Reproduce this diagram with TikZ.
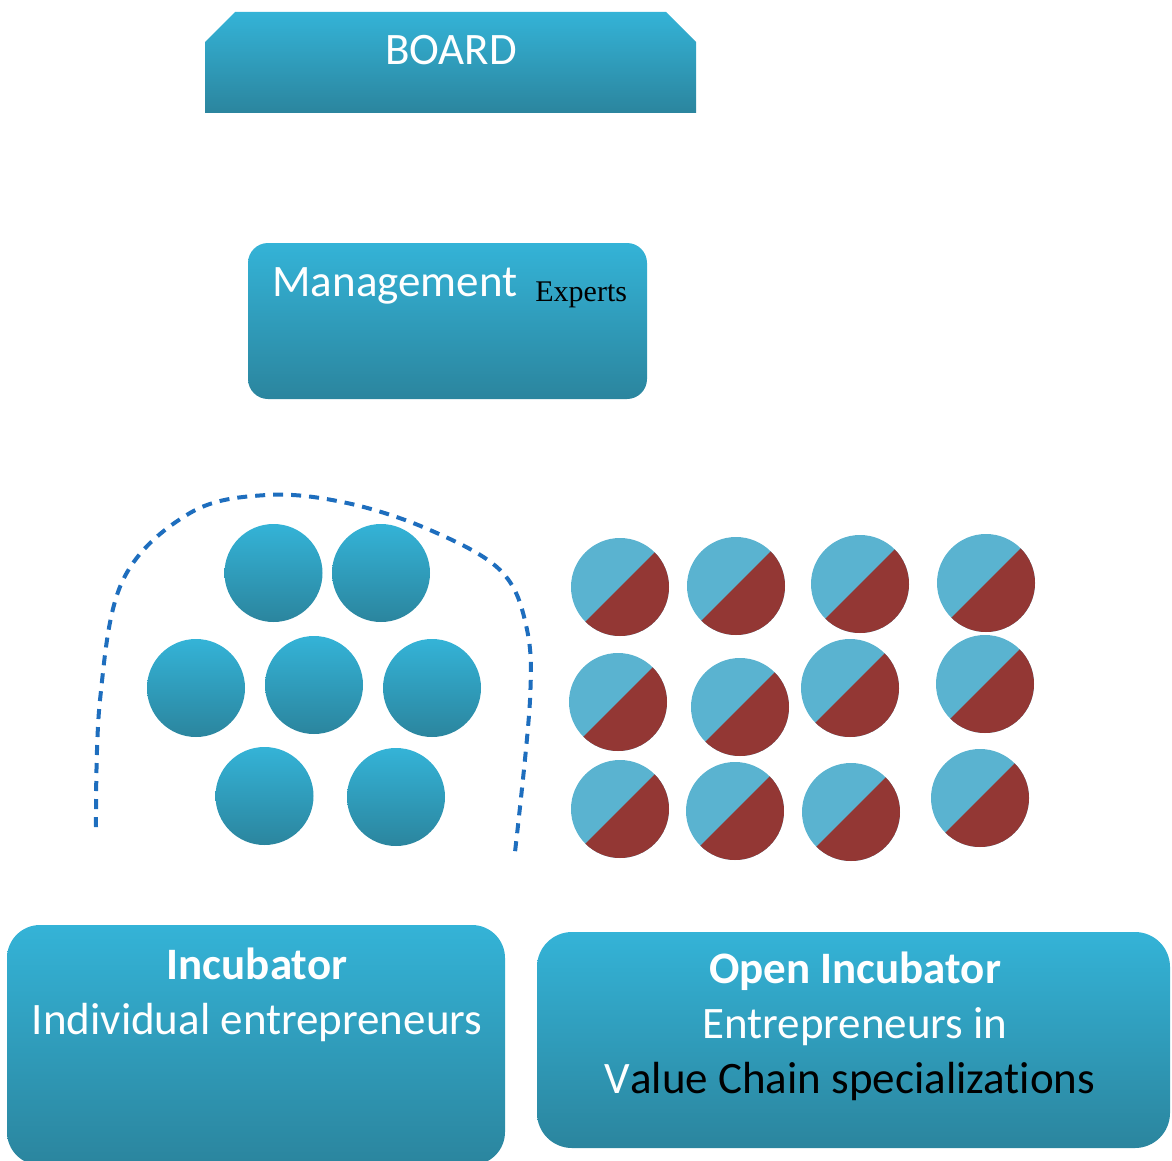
\documentclass[tikz,border=0pt]{standalone}
\usepackage{fontspec}
\setmainfont{Carlito}[Ligatures=NoCommon]
\newfontfamily\seriffont{Liberation Serif}

\definecolor{boxtop}{RGB}{52,179,215}
\definecolor{boxbot}{RGB}{43,133,158}
\definecolor{halfblue}{RGB}{90,179,208}
\definecolor{halfred}{RGB}{147,55,52}
\definecolor{fence}{RGB}{30,110,190}

\tikzset{
  panel/.style={top color=boxtop, bottom color=boxbot, draw=none, inner sep=0pt},
  label/.style={text=white, font=\fontsize{22.5}{27}\selectfont, anchor=base, inner sep=0pt},
  member/.style={circle, panel, minimum size=49pt},
  partner/.style={circle, fill=halfblue, minimum size=49pt, inner sep=0pt,
    path picture={\fill[halfred] (path picture bounding box.north east)
      -- (path picture bounding box.south west)
      -- (path picture bounding box.south east) -- cycle;}}
}

\begin{document}
\begin{tikzpicture}[x=0.5pt, y=-0.5pt]
\useasboundingbox (0,0) rectangle (1172,1161);

% top of the structure
\shade[panel] (205,113) -- (205,42) -- (235,12) -- (666,12) -- (696,42) -- (696,113) -- cycle;
\node[label] (board) at (451,65) {BOARD};

\node[panel, rounded corners=10pt, minimum width=199.5pt, minimum height=78pt] (mgmt) at (447.5,321) {};
\node[label, anchor=base west] (mgmttext) at (272,296) {Management};
\node[anchor=base west, inner sep=0pt, font=\seriffont\fontsize{15}{18}\selectfont] (experts) at (535,301) {Experts};

% incubator group and its fence
\draw[fence, line width=2pt, dash pattern=on 5pt off 4pt]
  plot[smooth, tension=0.6] coordinates {(96,827) (100,700) (123,580) (190,513) (267,495)
  (347,503) (430,530) (500,570) (526,625) (530,700) (515,852)};

\node[member] (a1) at (273.5,573) {};
\node[member] (a2) at (381,573) {};
\node[member] (a3) at (196,688) {};
\node[member] (a4) at (314,685) {};
\node[member] (a5) at (432,688) {};
\node[member] (a6) at (264.5,796) {};
\node[member] (a7) at (396,797) {};

% open incubator group
\node[partner] (b11) at (620,587) {};
\node[partner] (b12) at (736,586) {};
\node[partner] (b13) at (860,584) {};
\node[partner] (b14) at (986,583) {};
\node[partner] (b21) at (618,702) {};
\node[partner] (b22) at (740,707) {};
\node[partner] (b23) at (850,688) {};
\node[partner] (b24) at (985,684) {};
\node[partner] (b31) at (620,809) {};
\node[partner] (b32) at (735,811) {};
\node[partner] (b33) at (851,812) {};
\node[partner] (b34) at (980,798) {};

% bottom boxes
\node[panel, rounded corners=16.5pt, minimum width=249pt, minimum height=120pt] (inc) at (256,1045) {};
\node[label] (inctitle) at (257,979) {\bfseries Incubator};
\node[label] (incsub) at (257,1034) {Individual entrepreneurs};

\node[panel, rounded corners=17.5pt, minimum width=316.5pt, minimum height=108pt] (openinc) at (853.5,1040) {};
\node[label] (opentitle) at (855,983) {\bfseries Open Incubator};
\node[label] (opensub) at (855,1038) {Entrepreneurs in};
\node[label, text=black] (openline) at (850,1093) {{\color{white}V}alue Chain specializations};
\end{tikzpicture}
\end{document}
